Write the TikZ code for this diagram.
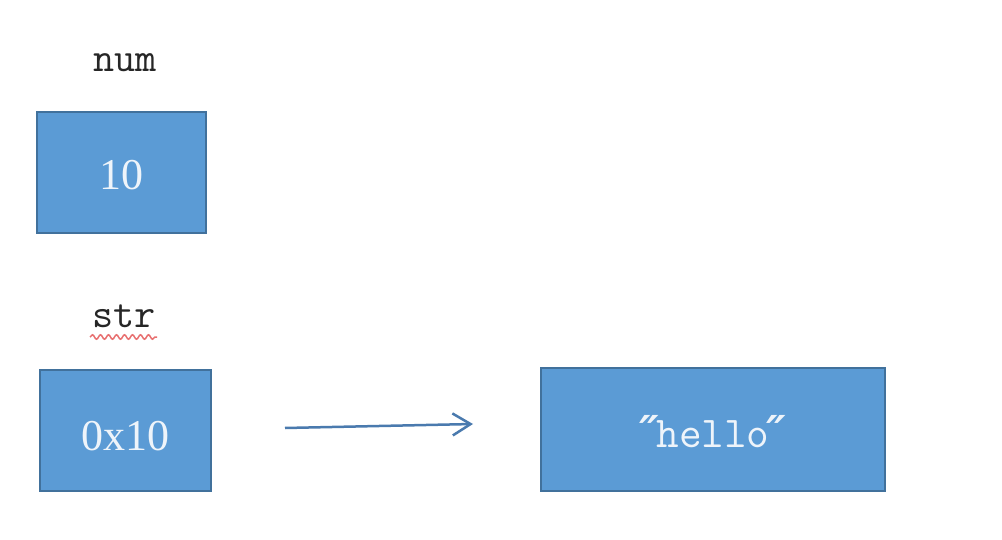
\documentclass[tikz,border=0pt]{standalone}
\usepackage{fontspec}
\setmainfont{Liberation Serif}
\newfontfamily\quotefont{DejaVu Serif}
\usetikzlibrary{arrows.meta,decorations.pathmorphing}
\definecolor{boxfill}{HTML}{5B9BD5}
\definecolor{boxline}{HTML}{41719C}
\definecolor{boxtext}{HTML}{EEF4FA}
\definecolor{arrowcol}{HTML}{4A7AAE}
\definecolor{wavy}{HTML}{E87070}
\tikzset{
  memcell/.style={draw=boxline, line width=2pt, fill=boxfill, inner sep=0pt,
    text=boxtext, font=\fontsize{44}{44}\selectfont, text depth=0pt},
  varlabel/.style={anchor=base, inner sep=0pt, text=black!85,
    font=\ttfamily\fontsize{41}{41}\selectfont},
  pointer/.style={draw=arrowcol, line width=2.5pt,
    -{Straight Barb[length=18pt,width=22pt,line width=2.5pt]}},
  spellmark/.style={draw=wavy, line width=1.5pt,
    decorate, decoration={snake, segment length=8pt, amplitude=2.2pt}}
}
\begin{document}
\begin{tikzpicture}[x=1pt,y=-1pt]
  \useasboundingbox (0,0) rectangle (1002,540);
  \fill[white] (0,0) rectangle (1002,540);
  % labels
  \node[varlabel] (numlabel) at (125,72) {num};
  \node[varlabel] (strlabel) at (124,327) {str};
  \coordinate (wavyA) at (90,337);
  \coordinate (wavyB) at (157,337);
  \draw[spellmark] (wavyA) -- (wavyB);
  % boxes
  \node[memcell, minimum width=169pt, minimum height=121pt, text height=35pt] (num) at (121.5,172.5) {10};
  \node[memcell, minimum width=171pt, minimum height=121pt, text height=39pt] (str) at (125.5,430.5) {0x10};
  \node[memcell, minimum width=344pt, minimum height=123pt, text height=35pt] (hello) at (713,429.5)
    {{\quotefont\itshape\bfseries\fontsize{44}{44}\selectfont ″}\kern-3pt{\ttfamily\fontsize{44}{44}\selectfont hello}\kern-3pt{\quotefont\itshape\bfseries\fontsize{44}{44}\selectfont ″}};
  % pointer
  \coordinate (pstart) at (285,428);
  \coordinate (pend) at (473,424);
  \draw[pointer] (pstart) -- (pend);
\end{tikzpicture}
\end{document}
